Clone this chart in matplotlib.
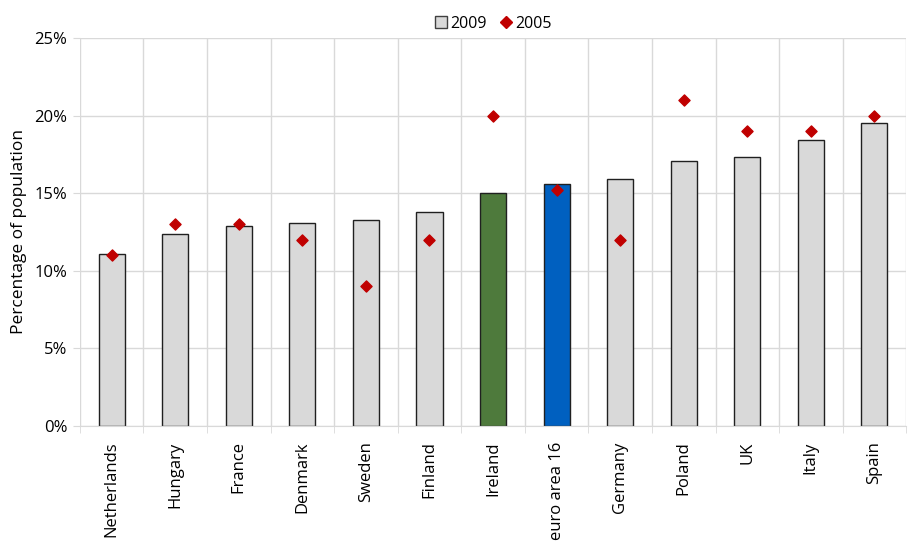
import matplotlib.pyplot as plt
from matplotlib.ticker import PercentFormatter

# Data (percent of population)
countries = ['Netherlands', 'Hungary', 'France', 'Denmark', 'Sweden', 'Finland',
             'Ireland', 'euro area 16', 'Germany', 'Poland', 'UK', 'Italy', 'Spain']
rate_2009 = [11.1, 12.4, 12.9, 13.1, 13.3, 13.8, 15.0, 15.6, 15.9, 17.1, 17.3, 18.4, 19.5]
rate_2005 = [11, 13, 13, 12, 9, 12, 20, 15.2, 12, 21, 19, 19, 20]

# Highlighted bars
bar_colors = ['#d9d9d9'] * len(countries)
bar_colors[countries.index('Ireland')] = '#4e7a3c'
bar_colors[countries.index('euro area 16')] = '#0060c0'

plt.rcParams['font.family'] = ['Open Sans', 'DejaVu Sans']
fig = plt.figure(figsize=(9.08, 5.42), dpi=100)
ax = fig.add_axes([0.088, 0.214, 0.91, 0.716])

x = list(range(len(countries)))
bars = ax.bar(x, rate_2009, width=0.41, color=bar_colors, edgecolor='#202020',
              linewidth=1.0, zorder=2, label='2009')
pts = ax.scatter(x, rate_2005, marker='D', s=32, color='#c00000', zorder=3, label='2005')

# Axes and grid
ax.set_xlim(-0.5, len(countries) - 0.5)
ax.set_ylim(0, 25)
ax.set_yticks([0, 5, 10, 15, 20, 25])
ax.yaxis.set_major_formatter(PercentFormatter(decimals=0))
ax.set_xticks(x)
ax.set_xticklabels(countries, rotation=90, fontsize=12)
ax.set_xticks([i - 0.5 for i in range(len(countries) + 1)], minor=True)
ax.tick_params(axis='x', which='major', length=0, pad=11)
ax.tick_params(axis='x', which='minor', length=5, color='#d9d9d9')
ax.tick_params(axis='y', length=5, color='#d9d9d9', labelsize=12, pad=4)
ax.grid(axis='y', color='#d9d9d9', linewidth=1, zorder=0)
ax.grid(axis='x', which='minor', color='#d9d9d9', linewidth=1, zorder=0)
for side in ['top', 'right', 'left']:
    ax.spines[side].set_visible(False)
ax.spines['bottom'].set_color('#d9d9d9')
ax.set_ylabel('Percentage of population', fontsize=12.5, labelpad=5)

# Legend at top center, 2009 first
bar_handle = plt.Line2D([], [], marker='s', linestyle='none', markersize=9,
                        markerfacecolor='#d9d9d9', markeredgecolor='#404040')
pt_handle = plt.Line2D([], [], marker='D', linestyle='none', markersize=6,
                       color='#c00000')
ax.legend([bar_handle, pt_handle], ['2009', '2005'], loc='lower center',
          bbox_to_anchor=(0.5, 1.0), ncol=2, frameon=False, fontsize=11.5,
          handlelength=0.8, handletextpad=0.2, columnspacing=0.8,
          borderaxespad=0.0)

fig.savefig('out.png', dpi=100)
